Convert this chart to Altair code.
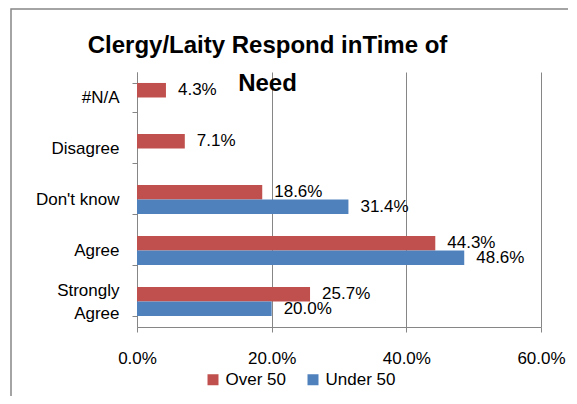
import altair as alt
import pandas as pd

categories = ["#N/A", "Disagree", "Don't know", "Agree", "Strongly Agree"]
series = ["Over 50", "Under 50"]
over_50 = [4.3, 7.1, 18.6, 44.3, 25.7]
under_50 = [None, None, 31.4, 48.6, 20.0]
x_ticks = [0, 0.2, 0.4, 0.6]
colors = ["#C0504D", "#4F81BD"]

rows = []
for c, o, u in zip(categories, over_50, under_50):
    if o is not None:
        rows.append({"category": c, "series": "Over 50", "value": o / 100})
    if u is not None:
        rows.append({"category": c, "series": "Under 50", "value": u / 100})
df = pd.DataFrame(rows)

FONT = "Liberation Sans"
GRAY = "#868686"

x_enc = alt.X(
    "value:Q",
    scale=alt.Scale(domain=[0, 0.6], nice=False),
    axis=alt.Axis(
        values=x_ticks, format=".1%", title=None, grid=True, gridColor=GRAY,
        domainColor=GRAY, tickColor=GRAY, tickSize=5, labelPadding=18,
        labelFontSize=17, labelFont=FONT, labelColor="black", labelFlush=False,
    ),
)
y_enc = alt.Y(
    "category:N",
    sort=categories,
    scale=alt.Scale(domain=categories, paddingInner=0.43, paddingOuter=0.215),
    axis=alt.Axis(
        title=None, tickBand="extent", grid=False,
        labelExpr="datum.value == 'Strongly Agree' ? ['Strongly', 'Agree\u00a0\u00a0'] : datum.label",
        labelOffset={"condition": {"test": "datum.value == 'Strongly Agree'", "value": -11.5}, "value": 0},
        labelLineHeight=23, labelPadding=13, tickSize=5, domainColor=GRAY,
        tickColor=GRAY, labelFontSize=17, labelFont=FONT, labelColor="black",
    ),
)
yoff = alt.YOffset("series:N", scale=alt.Scale(domain=series, paddingInner=0, paddingOuter=0))

base = alt.Chart(df)

bars = base.mark_bar().encode(
    x=x_enc,
    y=y_enc,
    yOffset=yoff,
    color=alt.Color(
        "series:N",
        scale=alt.Scale(domain=series, range=colors),
        legend=alt.Legend(
            title=None, orient="none", legendX=67.5, legendY=299, direction="horizontal",
            symbolType="square", symbolSize=121, symbolStrokeWidth=0,
            labelFontSize=17, labelFont=FONT, labelColor="black",
            columnPadding=18, labelOffset=4,
        ),
    ),
)

labels = base.mark_text(align="left", baseline="middle", dx=12, fontSize=17, font=FONT, color="black").encode(
    x=x_enc,
    y=y_enc,
    yOffset=yoff,
    text=alt.Text("value:Q", format=".1%"),
)

border = alt.Chart(alt.Data(values=[{"a": 1}])).mark_rect(
    fillOpacity=0, stroke="#878787", strokeWidth=1.5
).encode(
    x=alt.value(-126), x2=alt.value(700), y=alt.value(-63), y2=alt.value(600)
)

chart = alt.layer(border, bars, labels).properties(
    width=404,
    height=255,
    autosize="none",
    padding={"left": 129, "top": 64, "right": 27, "bottom": 69},
    title=alt.TitleParams(
        text=["Clergy/Laity Respond inTime of", "Need"],
        fontSize=24, font=FONT, fontWeight="bold", lineHeight=38,
        anchor="middle", dx=-71.5, offset=-88, color="black",
    ),
).configure_view(strokeWidth=0)

chart.save("out.html", embed_options={"renderer": "svg", "actions": False})
